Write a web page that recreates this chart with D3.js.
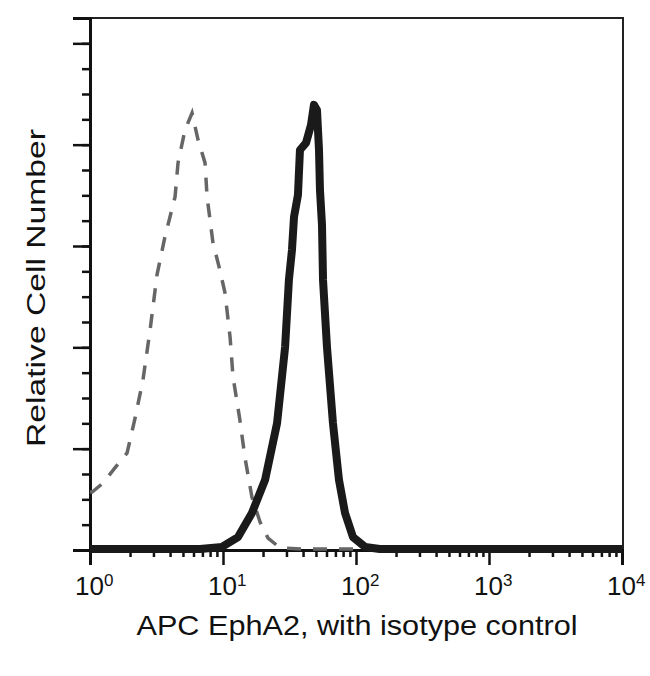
<!DOCTYPE html>
<html>
<head>
<meta charset="utf-8">
<script src="https://cdn.jsdelivr.net/npm/d3@7"></script>
<style>
  html, body { margin: 0; padding: 0; background: #fff; }
  svg { display: block; font-family: "Liberation Sans", Arial, sans-serif; }
</style>
</head>
<body>
<svg id="chart" width="650" height="676"></svg>
<script>
// isotype control histogram (fluorescence, relative count)
const isoValues = [1.0, 1.04, 1.25, 1.54, 1.9, 2.18, 2.5, 2.83, 3.19, 3.66, 4.36, 4.59, 5.18, 5.85, 6.49, 7.33, 7.59, 8.41, 9.48, 10.35, 11.3, 11.9, 13.4, 14.6, 16.5, 19.0, 21.8, 26.9, 40, 10000];
const isoCounts = [23, 22.9, 26.4, 32.4, 38.3, 52, 67, 86.9, 108.6, 123.6, 139.4, 152.8, 165.8, 172.5, 161.9, 152.8, 139.4, 121.2, 110.5, 101.5, 84.1, 68.3, 51.3, 36.7, 20.9, 11, 4.7, 0.8, 0.4, 0.4];

// EphA2 stained histogram
const ephValues = [1.0, 6.72, 9.83, 12.97, 16.5, 20.7, 25.5, 29.3, 31.3, 33.0, 34.2, 36.6, 37.9, 42.1, 45.9, 48.3, 50.9, 52.7, 53.6, 55.5, 56.5, 60.5, 67.1, 74.5, 82.7, 94.9, 116.9, 151, 10000];
const ephCounts = [0.4, 0.4, 1.2, 5.1, 14.6, 27.6, 50.1, 80.1, 106.6, 118.4, 131.5, 140.1, 157.9, 160.7, 167.8, 175.7, 173.7, 157.9, 142.1, 128.3, 106.6, 80.1, 50.1, 27.6, 14.6, 5.1, 1.2, 0.4, 0.4];

// axis ticks
const xDecades = [1, 10, 100, 1000, 10000];
const xExponents = ["0", "1", "2", "3", "4"];
const yMajorTicks = [0, 40, 80, 120, 160, 200];
const yMinorTicks = d3.range(0, 211, 10);

const iso = isoValues.map((v, i) => ({ x: v, y: isoCounts[i] }));
const eph = ephValues.map((v, i) => ({ x: v, y: ephCounts[i] }));

const plot = { left: 90, right: 622, top: 18, bottom: 550 };

const svg = d3.select("#chart");

const x = d3.scaleLog().domain([1, 10000]).range([plot.left, plot.right]);
const y = d3.scaleLinear().domain([0, 210]).range([plot.bottom, plot.top]);

// frame top and right
svg.append("path")
  .attr("d", `M${plot.left},${plot.top}H${plot.right + 1}V${plot.bottom}`)
  .attr("fill", "none")
  .attr("stroke", "#222")
  .attr("stroke-width", 2);

// y axis: minor then major ticks
const yMinor = svg.append("g")
  .attr("transform", `translate(${plot.left}, 0)`)
  .call(d3.axisLeft(y).tickValues(yMinorTicks).tickSize(8).tickFormat(""));
const yMajor = svg.append("g")
  .attr("transform", `translate(${plot.left}, 0)`)
  .call(d3.axisLeft(y).tickValues(yMajorTicks).tickSize(17).tickFormat(""));

// x axis: minor then major ticks
const minorVals = [];
xDecades.slice(0, -1).forEach((d) => {
  for (let k = 2; k <= 9; k++) minorVals.push(d * k);
});
const xMinor = svg.append("g")
  .attr("transform", `translate(0, ${plot.bottom})`)
  .call(d3.axisBottom(x).tickValues(minorVals).tickSize(7).tickFormat(""));
const xMajor = svg.append("g")
  .attr("transform", `translate(0, ${plot.bottom})`)
  .call(d3.axisBottom(x).tickValues(xDecades).tickSize(15).tickFormat(""));

[yMinor, yMajor, xMinor, xMajor].forEach((g) => {
  g.select(".domain").attr("stroke", "#111").attr("stroke-width", 3);
  g.selectAll(".tick line").attr("stroke", "#111").attr("stroke-width", 2.5);
});

// decade labels 10^n
const labels = svg.append("g")
  .selectAll("text")
  .data(xDecades)
  .join("text")
  .attr("x", (d) => x(d) - 15)
  .attr("y", 595)
  .attr("font-size", 26)
  .attr("fill", "#111");
labels.append("tspan").text("10");
labels.append("tspan")
  .attr("dy", -9)
  .attr("font-size", 17)
  .text((d, i) => xExponents[i]);

// lines
const line = d3.line()
  .x((d) => x(d.x))
  .y((d) => y(d.y));

svg.append("path")
  .datum(iso)
  .attr("d", line)
  .attr("fill", "none")
  .attr("stroke", "#666")
  .attr("stroke-width", 3.5)
  .attr("stroke-dasharray", "14 12");

svg.append("path")
  .datum(eph)
  .attr("d", line)
  .attr("fill", "none")
  .attr("stroke", "#1a1a1a")
  .attr("stroke-width", 8)
  .attr("stroke-linejoin", "round");

// axis titles
svg.append("text")
  .attr("x", 357)
  .attr("y", 635)
  .attr("text-anchor", "middle")
  .attr("font-size", 28)
  .attr("textLength", 441)
  .attr("lengthAdjust", "spacingAndGlyphs")
  .attr("fill", "#111")
  .text("APC EphA2, with isotype control");

svg.append("text")
  .attr("transform", "translate(45, 288) rotate(-90)")
  .attr("text-anchor", "middle")
  .attr("font-size", 26)
  .attr("textLength", 318)
  .attr("lengthAdjust", "spacingAndGlyphs")
  .attr("fill", "#111")
  .text("Relative Cell Number");
</script>
</body>
</html>
